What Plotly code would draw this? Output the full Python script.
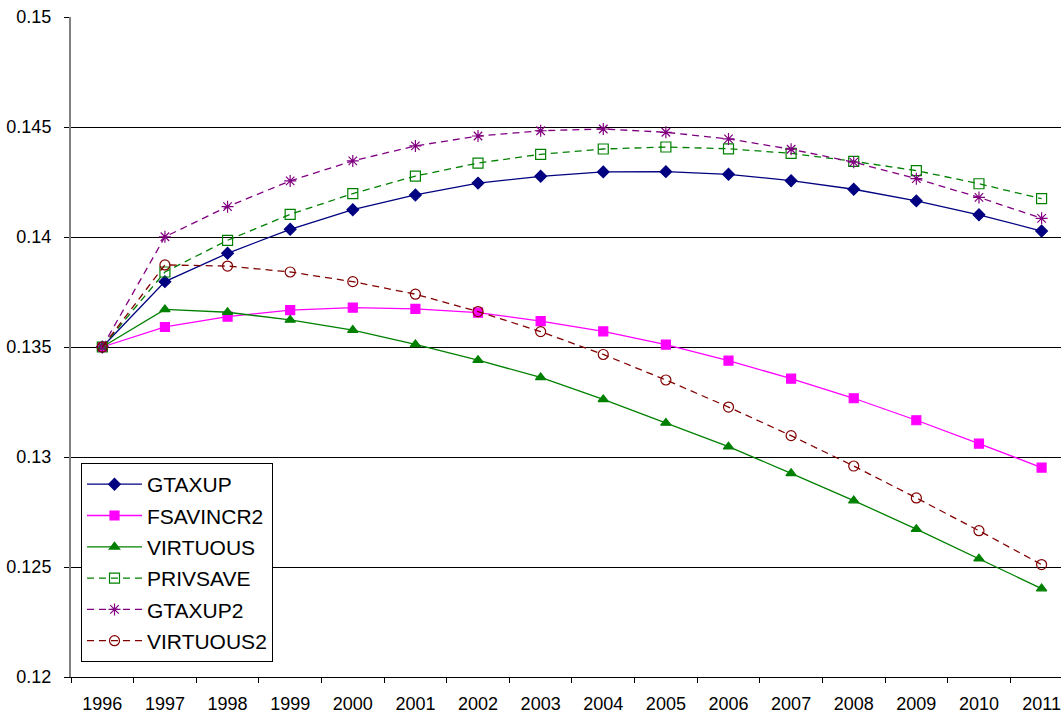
import plotly.graph_objects as go

years = [str(y) for y in range(1996, 2012)]

gtaxup = [0.1350, 0.13797, 0.13926, 0.14035, 0.14124, 0.14191, 0.14245, 0.14276,
          0.14296, 0.14297, 0.14285, 0.14256, 0.14217, 0.14164, 0.14101, 0.14027]
fsavincr2 = [0.1350, 0.13591, 0.13638, 0.13668, 0.13679, 0.13673, 0.13656, 0.13618,
             0.13571, 0.13511, 0.13438, 0.13356, 0.13267, 0.13167, 0.13061, 0.12952]
virtuous = [0.1350, 0.13671, 0.13658, 0.13623, 0.13577, 0.13512, 0.13440, 0.13362,
            0.13262, 0.13155, 0.13047, 0.12926, 0.12802, 0.12672, 0.12538, 0.12402]
privsave = [0.1350, 0.13841, 0.13985, 0.14103, 0.14197, 0.14277, 0.14336, 0.14376,
            0.14400, 0.14409, 0.14401, 0.14380, 0.14344, 0.14302, 0.14242, 0.14174]
gtaxup2 = [0.1350, 0.14001, 0.14138, 0.14255, 0.14346, 0.14414, 0.14459, 0.14483,
           0.14491, 0.14476, 0.14446, 0.14399, 0.14340, 0.14265, 0.14180, 0.14085]
virtuous2 = [0.1350, 0.13873, 0.13868, 0.13841, 0.13797, 0.13740, 0.13661, 0.13570,
             0.13466, 0.13350, 0.13227, 0.13097, 0.12959, 0.12814, 0.12665, 0.12511]

series = [
    ("GTAXUP", gtaxup, "#000080", "solid", "diamond", 9),
    ("FSAVINCR2", fsavincr2, "#FF00FF", "solid", "square", 9),
    ("VIRTUOUS", virtuous, "#008000", "solid", "triangle-up", 9),
    ("PRIVSAVE", privsave, "#008000", "7px,5px", "square-open", 10),
    ("GTAXUP2", gtaxup2, "#800080", "7px,5px", "asterisk-open", 10),
    ("VIRTUOUS2", virtuous2, "#800000", "7px,5px", "circle-open", 10),
]

fig = go.Figure()
for i, (name, vals, color, dash, sym, size) in enumerate(series):
    fig.add_trace(go.Scatter(
        x=years, y=vals, name=name, mode="lines+markers",
        legendgroup=str(i),
        line=dict(color=color, width=1.3, dash=dash),
        marker=dict(symbol=sym, size=size, color=color,
                    line=dict(color=color, width=1.2)),
    ))

fig.update_layout(
    width=1061, height=713,
    margin=dict(l=71, r=0, t=17, b=36),
    paper_bgcolor="white", plot_bgcolor="white",
    font=dict(family="Liberation Sans, Arial", size=18, color="black"),
    showlegend=True,
    legend=dict(
        x=0.0101, y=0.3242, xanchor="left", yanchor="top",
        bgcolor="white", bordercolor="black", borderwidth=1,
        font=dict(size=21, family="Liberation Sans, Arial"),
        tracegroupgap=1, itemwidth=55,
        entrywidth=201, entrywidthmode="pixels",
    ),
    xaxis=dict(
        type="category", range=[-0.5, 15.31], automargin=False,
        showgrid=False, showline=True, linecolor="black", linewidth=1,
        ticks="outside", tickson="boundaries", ticklen=5, tickcolor="black",
        tickfont=dict(size=18), ticklabelstandoff=10,
    ),
    yaxis=dict(
        range=[0.12, 0.15], dtick=0.005, tick0=0.12, automargin=False,
        showgrid=True, gridcolor="black", gridwidth=1,
        showline=True, linecolor="#808080", linewidth=2,
        ticks="outside", ticklen=5, tickcolor="black",
        tickfont=dict(size=18), zeroline=False, ticklabelstandoff=9,
    ),
)

fig.write_html("out.html")
